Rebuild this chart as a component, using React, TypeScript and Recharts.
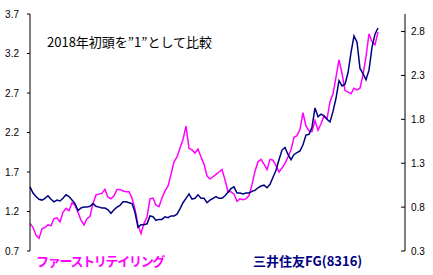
import { LineChart, Line, XAxis, YAxis } from "recharts";

// 2018年初頭 = 1 として週次で比較(左軸: ファーストリテイリング / 右軸: 三井住友FG)
const fastRetailing = [
  1.05, 1.0, 0.9, 0.86, 0.98, 1.0, 1.03, 1.02, 1.11, 1.12,
  1.07, 1.19, 1.24, 1.21, 1.31, 1.28, 1.19, 1.09, 1.03, 1.11,
  1.14, 1.3, 1.41, 1.42, 1.43, 1.48, 1.38, 1.36, 1.4, 1.48,
  1.48, 1.46, 1.45, 1.45, 1.37, 1.23, 1.03, 0.92, 1.05, 1.13,
  1.36, 1.37, 1.28, 1.26, 1.37, 1.46, 1.52, 1.67, 1.83, 1.89,
  2.0, 2.11, 2.28, 2.0, 1.98, 1.94, 1.99, 1.89, 1.8, 1.65,
  1.61, 1.64, 1.67, 1.7, 1.73, 1.6, 1.45, 1.45, 1.42, 1.33,
  1.36, 1.35, 1.36, 1.4, 1.54, 1.71, 1.83, 1.86, 1.8, 1.73,
  1.86, 1.85, 1.78, 1.7, 1.75, 1.81, 1.89, 1.98, 2.14, 2.16,
  2.24, 2.45, 2.28, 2.22, 2.21, 2.35, 2.23, 2.31, 2.41, 2.37,
  2.59, 2.69, 2.9, 3.12, 2.95, 2.73, 2.71, 2.69, 2.76, 2.74,
  2.76, 2.93, 3.16, 3.45, 3.35, 3.31, 3.47,
];

const smfg = [
  1.03, 0.96, 0.92, 0.89, 0.88, 0.9, 0.93, 0.89, 0.86, 0.88,
  0.87, 0.9, 0.94, 0.92, 0.88, 0.84, 0.76, 0.79, 0.8, 0.8,
  0.81, 0.84, 0.81, 0.8, 0.79, 0.79, 0.77, 0.73, 0.77, 0.8,
  0.82, 0.86, 0.86, 0.85, 0.84, 0.74, 0.57, 0.6, 0.6, 0.61,
  0.7, 0.69, 0.65, 0.66, 0.66, 0.69, 0.68, 0.7, 0.7, 0.72,
  0.78, 0.85, 0.9, 0.95, 0.89, 0.9, 0.94, 0.9, 0.9, 0.85,
  0.88, 0.9, 0.92, 0.9, 0.9, 0.93, 0.97, 1.01, 1.03, 0.96,
  0.96, 0.95, 0.96, 0.96, 0.98, 0.99, 1.02, 1.04, 1.05, 1.02,
  1.06, 1.14, 1.22, 1.34, 1.45, 1.48, 1.4, 1.34, 1.4, 1.42,
  1.44, 1.51, 1.62, 1.63, 1.71, 1.93, 1.83, 1.86, 1.84, 1.8,
  1.77, 1.89, 2.04, 2.24, 2.18, 2.2, 2.33, 2.56, 2.75, 2.68,
  2.38, 2.32, 2.25, 2.36, 2.62, 2.77, 2.84,
];

const leftTicks = [0.7, 1.2, 1.7, 2.2, 2.7, 3.2, 3.7];
const rightTicks = [0.3, 0.8, 1.3, 1.8, 2.3, 2.8];

const data = fastRetailing.map((v, i) => ({ i, fr: v, smfg: smfg[i] }));

const tickStyle = { fontSize: 10, fill: "#000", fontFamily: "Liberation Sans, Arial, sans-serif" };

export default function App() {
  return (
    <div style={{ position: "absolute", left: 0, top: 0, width: 433, height: 275, background: "#fff" }}>
      <LineChart width={433} height={275} data={data} margin={{ top: 14, right: 0, bottom: 24, left: 0 }}>
        <XAxis dataKey="i" type="number" domain={[0, 125]} hide />
        <YAxis
          yAxisId="L"
          domain={[0.7, 3.7]}
          ticks={leftTicks}
          width={30}
          tickSize={3}
          tickMargin={8}
          stroke="#000"
          tick={tickStyle}
          tickFormatter={(v: number) => v.toFixed(1)}
          allowDataOverflow
        />
        <YAxis
          yAxisId="R"
          orientation="right"
          domain={[0.3, 3.0]}
          ticks={rightTicks}
          width={28}
          tickSize={-4}
          tickMargin={10}
          stroke="#000"
          tick={tickStyle}
          tickFormatter={(v: number) => v.toFixed(1)}
          allowDataOverflow
        />
        <Line yAxisId="L" type="linear" dataKey="fr" stroke="#ff00ff" strokeWidth={1.5} dot={false} isAnimationActive={false} />
        <Line yAxisId="R" type="linear" dataKey="smfg" stroke="#000080" strokeWidth={1.5} dot={false} isAnimationActive={false} />
      </LineChart>
      <div style={{ position: "absolute", left: 47, top: 32, fontSize: 13, color: "#000", fontFamily: "Noto Sans CJK JP, sans-serif", whiteSpace: "nowrap" }}>
        2018年初頭を”1”として比較
      </div>
      <div style={{ position: "absolute", left: 36, top: 251, fontSize: 13, fontWeight: 700, letterSpacing: -1.3, color: "#ff00ff", fontFamily: "Noto Sans CJK JP, sans-serif", whiteSpace: "nowrap" }}>
        ファーストリテイリング
      </div>
      <div style={{ position: "absolute", left: 253, top: 251, fontSize: 13, fontWeight: 700, color: "#000080", fontFamily: "Noto Sans CJK JP, sans-serif", whiteSpace: "nowrap" }}>
        三井住友FG(8316)
      </div>
    </div>
  );
}
